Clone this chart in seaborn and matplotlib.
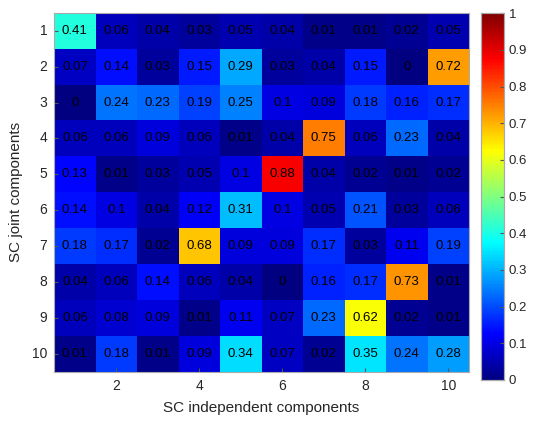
import seaborn as sns
import matplotlib.pyplot as plt
from matplotlib.colors import LinearSegmentedColormap
import numpy as np
import pandas as pd

rows = [str(i) for i in range(1, 11)]
cols = [str(i) for i in range(1, 11)]

r1 = [0.41, 0.06, 0.04, 0.03, 0.05, 0.04, 0.01, 0.01, 0.02, 0.05]
r2 = [0.07, 0.14, 0.03, 0.15, 0.29, 0.03, 0.04, 0.15, 0, 0.72]
r3 = [0, 0.24, 0.23, 0.19, 0.25, 0.1, 0.09, 0.18, 0.16, 0.17]
r4 = [0.06, 0.06, 0.09, 0.06, 0.01, 0.04, 0.75, 0.06, 0.23, 0.04]
r5 = [0.13, 0.01, 0.03, 0.05, 0.1, 0.88, 0.04, 0.02, 0.01, 0.02]
r6 = [0.14, 0.1, 0.04, 0.12, 0.31, 0.1, 0.05, 0.21, 0.03, 0.06]
r7 = [0.18, 0.17, 0.02, 0.68, 0.09, 0.09, 0.17, 0.03, 0.11, 0.19]
r8 = [0.04, 0.06, 0.14, 0.06, 0.04, 0, 0.16, 0.17, 0.73, 0.01]
r9 = [0.06, 0.08, 0.09, 0.01, 0.11, 0.07, 0.23, 0.62, 0.02, 0.01]
r10 = [0.01, 0.18, 0.01, 0.09, 0.34, 0.07, 0.02, 0.35, 0.24, 0.28]

xtick_labels = ['2', '4', '6', '8', '10']

df = pd.DataFrame([r1, r2, r3, r4, r5, r6, r7, r8, r9, r10], index=rows, columns=cols)

plt.rcParams['font.family'] = ['Liberation Sans', 'DejaVu Sans']

# matlab style jet
mjet = LinearSegmentedColormap.from_list('mjet', [
    (0.0, (0, 0, 0.5)), (0.125, (0, 0, 1)), (0.375, (0, 1, 1)),
    (0.625, (1, 1, 0)), (0.875, (1, 0, 0)), (1.0, (0.5, 0, 0))])

fig = plt.figure(figsize=(5.36, 4.25), dpi=100)
ax = fig.add_axes([0.101, 0.125, 0.774, 0.845])
cax = fig.add_axes([0.897, 0.106, 0.043, 0.863])

sns.heatmap(df, ax=ax, cbar_ax=cax, cmap=mjet, vmin=0, vmax=1,
            annot=True, fmt='g', annot_kws={'fontsize': 9.5, 'color': 'black'})

ax.set_xticks([int(t) - 0.5 for t in xtick_labels])
ax.set_xticklabels(xtick_labels, rotation=0, fontsize=10, color='#262626')
ax.set_yticks(np.arange(10) + 0.5)
ax.set_yticklabels(rows, rotation=0, fontsize=10, color='#262626')
ax.tick_params(direction='in', length=3, color='#555555', pad=5)
ax.set_xlabel('SC independent components', fontsize=11, color='#262626', labelpad=6)
ax.set_ylabel('SC joint components', fontsize=11, color='#262626', labelpad=6)
for s in ax.spines.values():
    s.set_visible(True)
    s.set_color('#aaaaaa')
    s.set_linewidth(0.8)

cax.set_yticks(np.arange(0, 1.01, 0.1))
cax.set_yticklabels(['0', '0.1', '0.2', '0.3', '0.4', '0.5', '0.6', '0.7', '0.8', '0.9', '1'])
cax.tick_params(direction='in', length=3, labelsize=9.5, color='#555555', labelcolor='#262626')
for s in cax.spines.values():
    s.set_visible(True)
    s.set_color('#aaaaaa')
    s.set_linewidth(0.8)

plt.savefig('out.png', dpi=100)
